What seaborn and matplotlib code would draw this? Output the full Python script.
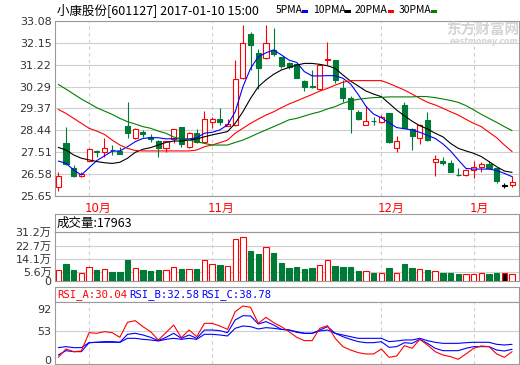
import numpy as np
import matplotlib
matplotlib.use('Agg')
import matplotlib.pyplot as plt
from matplotlib.patches import Rectangle
from matplotlib.transforms import ScaledTranslation
import seaborn as sns

sns.set_style('white')
plt.rcParams['font.family'] = ['DejaVu Sans', 'Noto Sans CJK SC']

# ---------------- data ----------------
opens = [26.05, 27.90, 26.82, 26.48, 27.15, 27.56, 27.50, 27.62, 27.57, 28.62,
         28.09, 28.38, 28.14, 27.98, 27.67, 28.05, 28.56, 27.71, 28.31, 27.95,
         28.80, 28.90, 28.63, 28.66, 30.66, 32.50, 31.70, 31.51, 31.84, 31.55,
         31.27, 31.23, 30.52, 30.33, 30.18, 31.42, 31.41, 30.24, 29.79, 29.22,
         28.66, 28.84, 28.80, 29.15, 27.67, 29.51, 28.49, 28.12, 28.87, 27.08,
         27.15, 27.03, 26.55, 26.54, 26.75, 26.87, 26.99, 26.82, 26.09, 26.12]
highs = [26.68, 28.59, 26.96, 26.66, 27.68, 27.60, 28.12, 27.81, 27.71, 29.62,
         28.52, 28.45, 28.28, 28.02, 28.00, 28.50, 28.56, 28.38, 28.48, 29.27,
         29.01, 29.37, 28.90, 31.41, 32.90, 32.61, 31.88, 32.90, 32.78, 31.55,
         31.34, 31.30, 30.57, 30.99, 31.23, 32.19, 31.41, 30.57, 29.89, 29.29,
         29.48, 29.01, 29.08, 29.15, 28.19, 29.65, 28.52, 28.69, 29.22, 27.39,
         27.32, 27.18, 26.82, 26.80, 27.13, 27.11, 27.15, 26.85, 26.19, 26.50]
lows = [25.88, 26.96, 26.47, 26.45, 27.15, 27.32, 27.32, 27.39, 27.42, 28.12,
        28.06, 28.16, 27.95, 27.32, 27.50, 27.88, 27.74, 27.67, 27.88, 27.91,
        28.52, 28.66, 28.62, 28.62, 30.60, 31.00, 30.18, 31.45, 31.60, 31.09,
        31.03, 30.64, 30.11, 30.21, 30.14, 31.20, 30.43, 29.62, 28.31, 28.87,
        28.66, 28.66, 28.73, 27.91, 27.53, 28.52, 27.60, 27.84, 27.98, 26.51,
        26.96, 26.65, 26.51, 26.51, 26.40, 26.68, 26.79, 26.21, 25.98, 26.02]
closes = [26.51, 27.02, 26.51, 26.57, 27.63, 27.53, 27.67, 27.58, 27.44, 28.33,
          28.48, 28.26, 28.05, 27.67, 27.99, 28.48, 27.84, 28.31, 27.92, 28.90,
          28.90, 28.77, 28.69, 30.59, 32.12, 32.05, 31.09, 32.12, 31.65, 31.17,
          31.13, 30.66, 30.28, 30.28, 31.20, 31.45, 30.57, 29.79, 29.32, 28.91,
          28.83, 28.82, 29.01, 27.95, 28.00, 28.55, 28.21, 28.66, 28.02, 27.22,
          27.03, 26.68, 26.53, 26.75, 26.86, 26.99, 26.82, 26.30, 26.09, 26.26]
volumes = [7.0, 10.9, 7.0, 5.0, 9.2, 7.0, 7.6, 5.9, 5.9, 13.7,
           8.3, 7.0, 6.5, 7.0, 7.0, 8.9, 7.9, 7.9, 7.9, 13.5,
           10.9, 10.5, 9.6, 26.6, 27.9, 19.0, 17.0, 21.6, 17.7, 11.8,
           8.5, 9.2, 7.9, 8.5, 10.5, 13.5, 9.8, 9.2, 9.2, 6.5,
           6.3, 5.2, 5.0, 8.5, 5.0, 11.1, 8.5, 7.6, 7.2, 6.3,
           5.2, 5.2, 4.6, 4.4, 4.4, 5.0, 4.6, 5.2, 5.0, 4.4]
ma5 = [27.13, 27.04, 26.75, 26.54, 26.85, 27.15, 27.35, 27.55, 27.56, 27.74,
       27.95, 28.09, 28.12, 28.12, 28.07, 28.08, 28.07, 28.07, 28.12, 28.31,
       28.35, 28.45, 28.66, 29.22, 30.28, 31.06, 31.55, 31.72, 31.84, 31.63,
       31.41, 31.31, 30.92, 30.74, 30.74, 30.75, 30.75, 30.64, 30.40, 29.95,
       29.45, 29.12, 28.97, 28.75, 28.55, 28.50, 28.45, 28.35, 28.22, 28.09,
       27.86, 27.56, 27.18, 26.82, 26.79, 26.79, 26.79, 26.73, 26.61, 26.47]
ma10 = [27.71, 27.60, 27.39, 27.25, 27.18, 27.11, 27.06, 27.03, 27.08, 27.25,
        27.50, 27.63, 27.70, 27.81, 27.92, 27.98, 27.98, 28.02, 28.07, 28.16,
        28.24, 28.31, 28.38, 28.73, 29.22, 29.79, 30.28, 30.57, 30.81, 30.99,
        31.10, 31.20, 31.27, 31.27, 31.23, 31.17, 31.06, 30.78, 30.52, 30.31,
        30.10, 29.97, 29.86, 29.58, 29.29, 29.05, 28.82, 28.63, 28.49, 28.31,
        28.16, 27.88, 27.67, 27.56, 27.46, 27.32, 27.11, 26.89, 26.71, 26.65]
ma20 = [29.32, 29.15, 28.94, 28.73, 28.52, 28.40, 28.26, 28.02, 27.81, 27.67,
        27.58, 27.56, 27.56, 27.56, 27.56, 27.56, 27.56, 27.56, 27.60, 27.74,
        27.81, 27.91, 28.02, 28.31, 28.52, 28.73, 28.91, 29.08, 29.22, 29.39,
        29.55, 29.68, 29.82, 29.95, 30.10, 30.21, 30.35, 30.47, 30.54, 30.54,
        30.54, 30.54, 30.54, 30.42, 30.28, 30.14, 29.97, 29.79, 29.62, 29.51,
        29.37, 29.22, 29.08, 28.90, 28.73, 28.59, 28.35, 28.12, 27.81, 27.53]
ma30 = [30.38, 30.18, 29.97, 29.76, 29.58, 29.39, 29.25, 29.11, 28.94, 28.80,
        28.70, 28.59, 28.52, 28.40, 28.31, 28.15, 28.07, 28.02, 27.95, 27.88,
        27.81, 27.81, 27.81, 27.92, 28.02, 28.16, 28.31, 28.45, 28.59, 28.73,
        28.88, 28.94, 29.04, 29.14, 29.22, 29.34, 29.44, 29.58, 29.68, 29.75,
        29.79, 29.82, 29.83, 29.85, 29.85, 29.85, 29.85, 29.87, 29.86, 29.82,
        29.76, 29.70, 29.62, 29.48, 29.30, 29.11, 28.94, 28.77, 28.59, 28.42]
rsi_a = [4.8, 20.0, 15.1, 16.3, 49.6, 48.4, 51.4, 49.6, 41.1, 68.4,
         71.4, 60.5, 51.4, 36.3, 49.6, 63.5, 40.5, 54.4, 42.3, 66.5,
         66.5, 61.7, 55.6, 87.7, 98.0, 95.6, 66.5, 77.4, 67.8, 60.5,
         51.4, 41.1, 35.1, 35.1, 57.5, 62.3, 39.3, 24.2, 18.1, 13.3,
         10.9, 10.9, 20.0, 4.8, 7.3, 26.0, 21.2, 37.5, 27.2, 15.1,
         9.1, 6.0, 1.2, 10.9, 21.2, 25.4, 24.2, 10.9, 4.8, 15.1]
rsi_b = [9.1, 16.9, 15.1, 15.1, 31.4, 32.1, 33.3, 33.3, 32.1, 46.6,
         48.4, 45.4, 41.1, 35.1, 41.1, 48.4, 39.3, 45.4, 39.3, 54.4,
         54.4, 53.2, 49.6, 72.6, 80.4, 79.9, 65.3, 69.6, 63.5, 55.6,
         54.4, 51.4, 48.4, 48.4, 54.4, 60.5, 48.4, 42.3, 37.5, 33.3,
         31.4, 31.4, 33.3, 23.0, 24.2, 31.4, 30.2, 37.5, 30.2, 21.2,
         16.9, 16.9, 16.9, 21.2, 24.2, 24.2, 24.2, 18.1, 16.3, 19.4]
rsi_c = [22.4, 24.2, 22.4, 22.4, 31.4, 32.1, 32.1, 32.1, 32.1, 39.3,
         39.3, 37.5, 36.3, 34.5, 37.5, 39.3, 37.5, 39.3, 37.5, 46.6,
         46.6, 45.4, 43.6, 57.5, 61.7, 60.5, 56.3, 58.7, 57.5, 55.6,
         54.4, 50.2, 48.4, 48.4, 52.6, 54.4, 48.4, 45.4, 42.3, 39.3,
         39.3, 39.3, 39.3, 33.3, 34.5, 36.3, 36.3, 39.3, 35.1, 32.1,
         30.2, 30.2, 30.2, 31.4, 32.1, 32.1, 32.1, 28.4, 27.2, 28.4]

price_ticks = [25.65, 26.58, 27.51, 28.44, 29.37, 30.29, 31.22, 32.15, 33.08]
price_tick_labels = ['25.65', '26.58', '27.51', '28.44', '29.37', '30.29', '31.22', '32.15', '33.08']
vol_ticks = [0, 5.6, 14.1, 22.7, 31.2]
vol_tick_labels = ['0', '5.6万', '14.1万', '22.7万', '31.2万']
rsi_ticks = [0, 53, 92]
rsi_tick_labels = ['0', '53', '92']
month_pos = [4, 20, 42, 54]
month_labels = ['10月', '11月', '12月', '1月']

title_text = '小康股份[601127] 2017-01-10 15:00'
ma_names = ['5PMA', '10PMA', '20PMA', '30PMA']
vol_title = '成交量:17963'
rsi_titles = ['RSI_A:30.04', 'RSI_B:32.58', 'RSI_C:38.78']

# ---------------- styling ----------------
RED = '#ff0000'
GREEN = '#007a37'
BLUE = '#0000ff'
MA_COLORS = ['#0000ff', '#000000', '#ff0000', '#008000']
FRAME = '#9a9a9a'
GRID = '#cfcfcf'
TXT = '#333333'

W, H = 520, 365
fig = plt.figure(figsize=(W / 100, H / 100), dpi=100)
fig.patch.set_facecolor('white')


def rect(x0, y0, x1, y1):
    return [x0 / W, 1 - y1 / H, (x1 - x0) / W, (y1 - y0) / H]


ax_main = fig.add_axes(rect(55, 20.7, 519, 196))
ax_vt = fig.add_axes(rect(55, 214.3, 519, 232.3))
ax_vol = fig.add_axes(rect(55, 232.3, 519, 281))
ax_rt = fig.add_axes(rect(55, 287.3, 519, 301.7))
ax_rsi = fig.add_axes(rect(55, 301.7, 519, 364))

idx = np.arange(len(closes))
o = np.array(opens); c = np.array(closes); h = np.array(highs); l = np.array(lows)
cols = [RED if cc > oo else (GREEN if cc < oo else '#000000') for oo, cc in zip(o, c)]
faces = ['white' if cc > oo else col for oo, cc, col in zip(o, c, cols)]
XL = (-0.43, 59.9)

for ax in (ax_main, ax_vt, ax_vol, ax_rt, ax_rsi):
    ax.set_facecolor('white')
    for sp in ax.spines.values():
        sp.set_color(FRAME)
        sp.set_linewidth(0.8)
    ax.set_xlim(*XL)
    ax.set_axisbelow(True)

# ---- main candles ----
ax_main.vlines(idx, l, h, colors=cols, lw=0.8, zorder=2)
ax_main.bar(idx, np.maximum(np.abs(c - o), 0.006), bottom=np.minimum(o, c), width=0.66,
            color=faces, edgecolor=cols, linewidth=0.8, zorder=3)
for ma, colr in zip([ma5, ma10, ma20, ma30], MA_COLORS):
    sns.lineplot(x=idx, y=ma, ax=ax_main, color=colr, lw=0.8, legend=False, zorder=4)

ax_main.set_ylim(25.65, 33.08)
ax_main.set_yticks(price_ticks)
ax_main.set_yticklabels(price_tick_labels)
ax_main.set_xticks(month_pos)
ax_main.set_xticklabels(month_labels)
ax_main.yaxis.grid(True, color=GRID, lw=0.8)
ax_main.xaxis.grid(True, color=GRID, lw=0.8, ls=(0, (3, 3)))
ax_main.tick_params(axis='y', length=0, pad=2.5, labelsize=8, labelcolor=TXT)
ax_main.tick_params(axis='x', length=0, pad=4, labelsize=8.5, labelcolor='#ff0000')
for lbl in ax_main.get_xticklabels():
    lbl.set_ha('left')
    lbl.set_transform(lbl.get_transform() + ScaledTranslation(-0.04, 0, fig.dpi_scale_trans))
ax_main.set_xlabel(''); ax_main.set_ylabel('')

# ---- volume ----
ax_vol.bar(idx, volumes, width=0.7, color=faces, edgecolor=[RED if cc >= oo else GREEN for oo, cc in zip(o, c)],
           linewidth=0.8, zorder=3)
ax_vol.set_ylim(0, 31.2)
ax_vol.set_yticks(vol_ticks)
ax_vol.set_yticklabels(vol_tick_labels)
ax_vol.set_xticks(month_pos)
ax_vol.set_xticklabels([])
ax_vol.yaxis.grid(True, color=GRID, lw=0.8)
ax_vol.xaxis.grid(True, color=GRID, lw=0.8, ls=(0, (3, 3)))
ax_vol.tick_params(axis='both', length=0, pad=2.5, labelsize=8, labelcolor=TXT)

# ---- RSI ----
sns.lineplot(x=idx, y=rsi_c, ax=ax_rsi, color=BLUE, lw=0.8, legend=False, zorder=3)
sns.lineplot(x=idx, y=rsi_b, ax=ax_rsi, color=BLUE, lw=0.8, legend=False, zorder=3)
sns.lineplot(x=idx, y=rsi_a, ax=ax_rsi, color=RED, lw=0.8, legend=False, zorder=4)
ax_rsi.set_ylim(-7.3, 105.8)
ax_rsi.set_yticks(rsi_ticks)
ax_rsi.set_yticklabels(rsi_tick_labels)
ax_rsi.axhline(53, color=GRID, lw=0.8, zorder=1)
ax_rsi.set_xticks(month_pos)
ax_rsi.set_xticklabels([])
ax_rsi.xaxis.grid(True, color=GRID, lw=0.8, ls=(0, (3, 3)))
ax_rsi.tick_params(axis='both', length=0, pad=2.5, labelsize=8, labelcolor=TXT)
ax_rsi.set_xlabel(''); ax_rsi.set_ylabel('')

for ax in (ax_vt, ax_rt):
    ax.set_xticks([]); ax.set_yticks([])

# ---- texts ----
def ftext(x, y, s, **kw):
    fig.text(x / W, 1 - y / H, s, va='center', ha='left', **kw)

ftext(57, 10, title_text, fontsize=9, family=['Noto Sans CJK SC'], color='#000000')
leg_x = [276, 313, 355, 399]
sw_x = [302, 345, 388, 431]
for name, lx, sx, colr in zip(ma_names, leg_x, sw_x, MA_COLORS):
    ftext(lx, 10, name, fontsize=7.5, family=['Noto Sans CJK SC'], color='#000000')
    fig.add_artist(Rectangle((sx / W, 1 - 12.5 / H), 5.5 / W, 3 / H, transform=fig.transFigure,
                             facecolor=colr, edgecolor='none'))

ftext(57, 223, vol_title, fontsize=9, family=['Noto Sans CJK SC'], color='#000000')
for s, x, colr in zip(rsi_titles, [57, 129, 201], [RED, BLUE, BLUE]):
    ftext(x, 294.5, s, fontsize=7.6, family=['DejaVu Sans Mono'], color=colr)

# watermark
fig.text(483 / W, 1 - 30 / H, '东方财富网', fontsize=10.5, fontweight='bold', color='#d4d4d4',
         ha='center', va='center', family=['Noto Sans CJK SC'])
fig.text(484 / W, 1 - 41.5 / H, 'eastmoney.com', fontsize=5.6, fontweight='bold', style='italic',
         color='#d4d4d4', ha='center', va='center')

fig.savefig('out.png', dpi=100, facecolor='white')
